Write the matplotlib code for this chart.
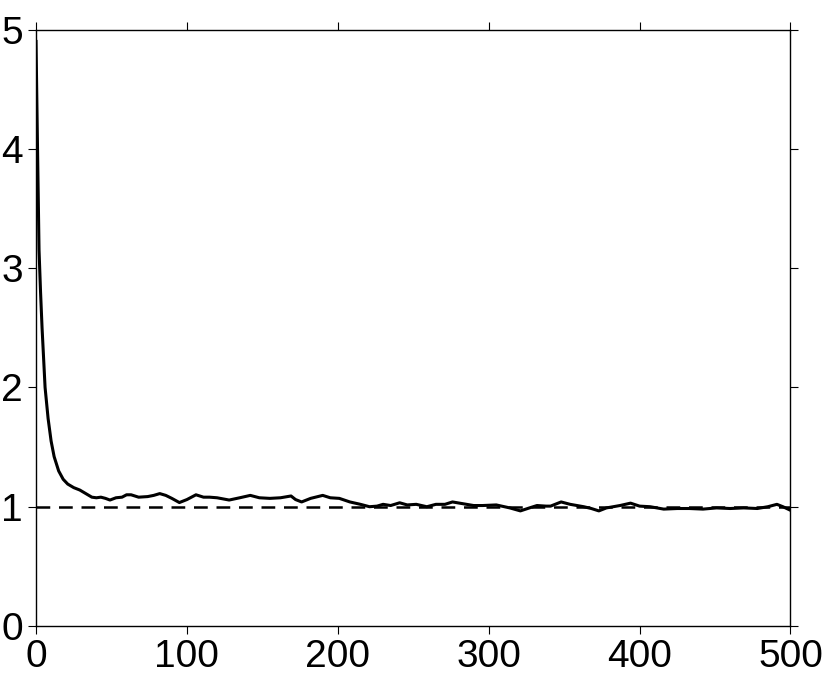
import matplotlib
matplotlib.use("Agg")
import matplotlib.pyplot as plt

# iteration number and the tracked value
steps = [0, 1, 2, 3, 4, 6, 8, 10, 12, 15, 18, 21, 25, 29, 33, 37, 40, 43,
         46, 49, 53, 57, 60, 63, 68, 74, 78, 82, 86, 90, 95, 100, 106, 111,
         115, 120, 128, 135, 142, 148, 155, 162, 169, 172, 176, 182, 190,
         195, 201, 208, 215, 221, 226, 230, 235, 241, 246, 252, 259, 265,
         271, 276, 283, 290, 296, 305, 314, 321, 327, 332, 338, 341, 348,
         354, 363, 368, 373, 378, 387, 394, 400, 407, 416, 425, 433, 442,
         451, 460, 469, 478, 485, 491, 495, 500]
values = [4.90, 4.00, 3.15, 2.80, 2.50, 2.00, 1.74, 1.55, 1.42, 1.30, 1.23,
          1.19, 1.16, 1.14, 1.11, 1.08, 1.075, 1.08, 1.07, 1.056, 1.075,
          1.08, 1.10, 1.10, 1.08, 1.085, 1.095, 1.11, 1.095, 1.07, 1.035,
          1.06, 1.10, 1.08, 1.08, 1.075, 1.056, 1.075, 1.095, 1.075, 1.07,
          1.075, 1.09, 1.06, 1.04, 1.07, 1.095, 1.075, 1.07, 1.04, 1.02,
          1.00, 1.005, 1.02, 1.01, 1.033, 1.015, 1.02, 1.00, 1.02, 1.02,
          1.04, 1.025, 1.01, 1.01, 1.015, 0.99, 0.965, 0.99, 1.01, 1.005,
          1.005, 1.04, 1.02, 1.00, 0.985, 0.965, 0.99, 1.01, 1.03, 1.005,
          1.00, 0.98, 0.985, 0.985, 0.98, 0.99, 0.985, 0.99, 0.985, 1.00,
          1.02, 1.00, 0.97]

ref_level = 1.0
xticks = [0, 100, 200, 300, 400, 500]
yticks = [0, 1, 2, 3, 4, 5]

plt.rcParams["font.family"] = ["Liberation Sans", "DejaVu Sans"]

fig = plt.figure(figsize=(8.3, 6.77), dpi=100)
ax = fig.add_axes([0.0434, 0.0753, 0.909, 0.8811])

ax.plot([xticks[0], xticks[-1]], [ref_level, ref_level], color="black",
        lw=1.8, dashes=(5.5, 3.5))
ax.plot(steps, values, color="black", lw=2.2, solid_joinstyle="round")

ax.set_xlim(0, 500)
ax.set_ylim(0, 5)
ax.set_xticks(xticks)
ax.set_yticks(yticks)
ax.tick_params(direction="out", length=5.5, width=0.8, labelsize=28,
               top=True, right=True, pad=4)
ax.tick_params(axis="y", pad=4)
for s in ax.spines.values():
    s.set_linewidth(1.0)

fig.savefig("out.png", dpi=100)
